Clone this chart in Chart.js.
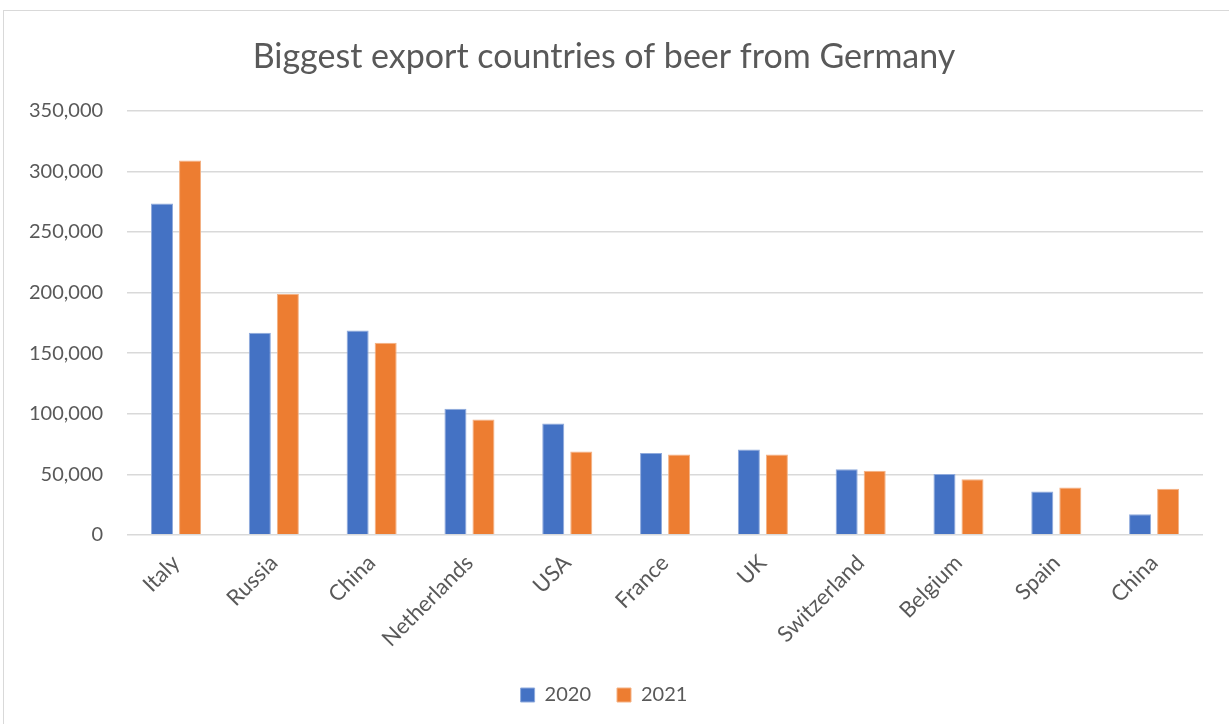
<!DOCTYPE html>
<html>
<head>
<meta charset="utf-8">
<script src="https://cdn.jsdelivr.net/npm/chart.js@4"></script>
<style>
  html,body{margin:0;padding:0;background:#fff;}
  body{width:1229px;height:724px;overflow:hidden;position:relative;}
  #frame{position:absolute;left:3px;top:10px;width:1240px;height:740px;border:1px solid #d9d9d9;box-sizing:border-box;}
  #wrap{position:absolute;left:0;top:0;width:1229px;height:724px;}
</style>
</head>
<body>
<div id="frame"></div>
<div id="wrap"><canvas id="chartBeer"></canvas></div>
<script>
const COUNTRIES=["Italy","Russia","China","Netherlands","USA","France","UK","Switzerland","Belgium","Spain","China"];
const EXPORTS_2020=[273500,166800,168700,104100,92000,67500,70500,54100,50300,35900,17100];
const EXPORTS_2021=[309000,198700,158500,95300,68900,66400,66400,53000,45900,39200,38100];
const Y_TICK_STEP=50000;
const Y_MAX=350000;

const FONT="Lato, 'Open Sans', sans-serif";
const GREY="#595959";

new Chart(document.getElementById("chartBeer"),{
  type:"bar",
  data:{
    labels:COUNTRIES,
    datasets:[
      {label:"2020",data:EXPORTS_2020,backgroundColor:"#4472c4",borderColor:"#8faadc",borderWidth:1,
       categoryPercentage:0.573,barPercentage:0.786},
      {label:"2021",data:EXPORTS_2021,backgroundColor:"#ed7d31",borderColor:"#f4b183",borderWidth:1,
       categoryPercentage:0.573,barPercentage:0.786}
    ]
  },
  options:{
    responsive:true,
    maintainAspectRatio:false,
    animation:false,
    layout:{padding:{left:5,right:26,top:0,bottom:9}},
    plugins:{
      title:{display:true,text:"Biggest export countries of beer from Germany",
        color:GREY,font:{family:FONT,size:34,weight:"normal"},padding:{top:37,bottom:33}},
      legend:{position:"bottom",
        labels:{color:GREY,font:{family:FONT,size:20},boxWidth:14,boxHeight:14,padding:26}},
      tooltip:{enabled:false}
    },
    scales:{
      x:{
        grid:{display:false},
        border:{display:false},
        ticks:{color:GREY,font:{family:FONT,size:22},minRotation:45,maxRotation:45,padding:7}
      },
      y:{
        min:0,max:Y_MAX,
        grid:{color:"#d9d9d9",lineWidth:1.5,drawTicks:false},
        border:{display:false},
        ticks:{stepSize:Y_TICK_STEP,color:GREY,font:{family:FONT,size:20},padding:24,
          callback:v=>v.toLocaleString("en-US")}
      }
    }
  }
});
</script>
</body>
</html>
